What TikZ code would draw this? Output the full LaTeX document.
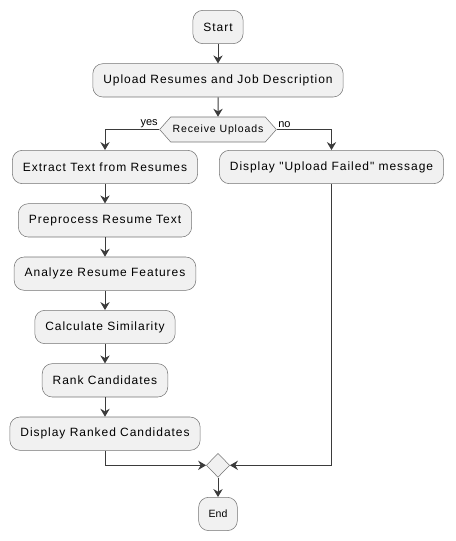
\documentclass[tikz,border=0pt]{standalone}
\usepackage{fontspec}
\setmainfont{Liberation Sans}
\newfontfamily\boxfont{Liberation Sans}[LetterSpace=8]
\usepackage{tikz}
\usetikzlibrary{calc,arrows.meta,positioning,shapes.geometric,shapes.symbols}
\definecolor{actfill}{HTML}{F1F1F1}
\definecolor{actline}{HTML}{181818}
\tikzset{flow/.style={draw=actline!85,line width=0.75pt,-{Stealth[length=6pt,width=7pt,inset=2pt]}}}

\begin{document}
\begin{tikzpicture}[x=0.75pt,y=-0.75pt,node distance=14.6pt and 14.6pt]

\tikzset{actnode/.style={font=\boxfont\fontsize{9}{11}\selectfont,fill=actfill,draw=actline!60,line width=0.4pt,rounded corners=7.5pt,inner xsep=7.9pt,minimum height=25pt,shape=rectangle},
endnode/.style={font=\fontsize{7.9}{10}\selectfont,fill=actfill,draw=actline!60,line width=0.4pt,rounded corners=7.5pt,inner xsep=7.5pt,minimum height=25pt,shape=rectangle},
testnode/.style={font=\boxfont\fontsize{7.9}{10}\selectfont,fill=actfill,draw=actline!60,line width=0.4pt,inner xsep=1.5pt,inner ysep=0pt,minimum height=18.75pt,shape=signal,signal to=west and east,signal pointer angle=97},
mergenode/.style={fill=actfill,draw=actline!60,line width=0.4pt,inner sep=0pt,minimum width=17.5pt,minimum height=18pt,shape=diamond},
branchlabel/.style={font=\fontsize{8.25}{10}\selectfont,inner sep=1pt}}

\useasboundingbox (0,0) rectangle (455,541);

% Start and upload
\node[actnode] (start) at (218,27) {Start};
\node[actnode,below=of start] (upload) {Upload Resumes and Job Description};
\node[testnode,below=of upload] (receive) {Receive Uploads};

% Two branches
\node[actnode] (extract) at (105,167) {Extract Text from Resumes};
\node[actnode] (failed) at (331.5,167) {Display "Upload Failed" message};
\node[actnode,below=of extract] (prep) {Preprocess Resume Text};
\node[actnode,below=of prep] (analyze) {Analyze Resume Features};
\node[actnode,below=of analyze] (similar) {Calculate Similarity};
\node[actnode,below=of similar] (rank) {Rank Candidates};
\node[actnode,below=of rank] (ranked) {Display Ranked Candidates};

% Merge and end
\node[mergenode] (merge) at (218,465.3) {};
\node[endnode,below=of merge] (end) {End};

% Branch labels
\node[branchlabel,anchor=south east] at (receive.west) {yes};
\node[branchlabel,anchor=south west] at (receive.east) {no};

% Edges
\draw[flow] (start) -- (upload);
\draw[flow] (upload) -- (receive);
\draw[flow] (receive.west) -| (extract.north);
\draw[flow] (receive.east) -| (failed.north);
\foreach \a/\b in {extract/prep,prep/analyze,analyze/similar,similar/rank,rank/ranked} \draw[flow] (\a) -- (\b);
\draw[flow] (ranked.south) |- (merge.west);
\draw[flow] (failed.south) |- (merge.east);
\draw[flow] (merge) -- (end);

\end{tikzpicture}
\end{document}
